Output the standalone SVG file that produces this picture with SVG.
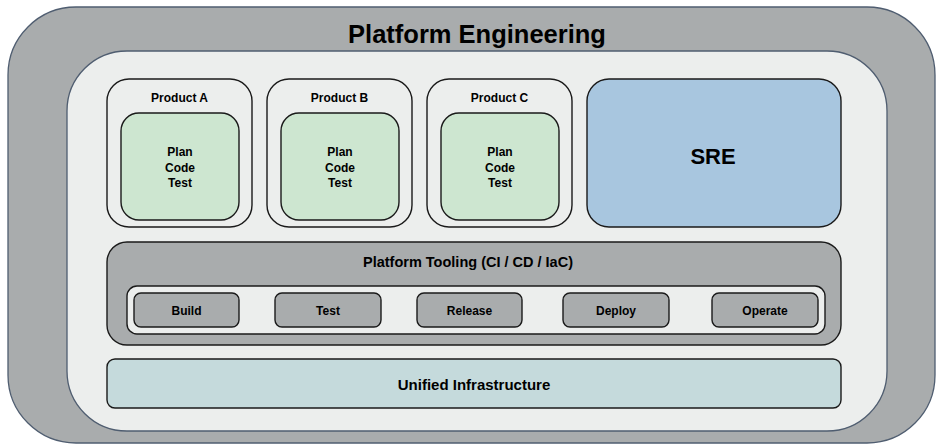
<svg xmlns="http://www.w3.org/2000/svg" width="939" height="446" viewBox="0 0 939 446">
  <style>
    text { font-family: "Liberation Sans", Arial, sans-serif; font-weight: bold; fill: #000; text-anchor: middle; dominant-baseline: central; }
    .frame { stroke: #4f5d70; stroke-width: 1.3; }
    .box { stroke: #1a1a1a; stroke-width: 1.4; }
    .grey { fill: #a9acad; }
    .light { fill: #eceeed; }
    .green { fill: #cde6d0; }
    .blue { fill: #a8c6df; }
    .infra { fill: #c5dadc; }
    .lbl { font-size: 12px; }
    .step { font-size: 12px; }
  </style>

  <!-- outer platform frame -->
  <g id="platform-engineering">
    <rect class="frame grey" x="8" y="7" width="927" height="436" rx="68"/>
    <text x="477" y="34" style="font-size:25.5px">Platform Engineering</text>
    <rect class="frame light" x="67" y="51" width="820" height="380" rx="60"/>
  </g>

  <!-- product teams -->
  <g id="product-a">
    <rect class="box light" x="107" y="79" width="145" height="148" rx="22"/>
    <text class="lbl" x="179.5" y="98">Product A</text>
    <rect class="box green" x="121" y="113" width="118" height="107" rx="18"/>
    <text class="lbl" x="180" y="152">Plan</text>
    <text class="lbl" x="180" y="168">Code</text>
    <text class="lbl" x="180" y="183">Test</text>
  </g>
  <g id="product-b">
    <rect class="box light" x="267" y="79" width="145" height="148" rx="22"/>
    <text class="lbl" x="339.5" y="98">Product B</text>
    <rect class="box green" x="281" y="113" width="118" height="107" rx="18"/>
    <text class="lbl" x="340" y="152">Plan</text>
    <text class="lbl" x="340" y="168">Code</text>
    <text class="lbl" x="340" y="183">Test</text>
  </g>
  <g id="product-c">
    <rect class="box light" x="427" y="79" width="145" height="148" rx="22"/>
    <text class="lbl" x="499.5" y="98">Product C</text>
    <rect class="box green" x="441" y="113" width="118" height="107" rx="18"/>
    <text class="lbl" x="500" y="152">Plan</text>
    <text class="lbl" x="500" y="168">Code</text>
    <text class="lbl" x="500" y="183">Test</text>
  </g>

  <g id="sre">
    <rect class="box blue" x="587" y="79" width="254" height="148" rx="22"/>
    <text x="713" y="156" style="font-size:22px">SRE</text>
  </g>

  <!-- shared tooling -->
  <g id="platform-tooling">
    <rect class="box grey" x="107" y="242" width="734" height="103" rx="20"/>
    <text x="468" y="262" style="font-size:14.5px">Platform Tooling (CI / CD / IaC)</text>
    <rect class="box light" x="127" y="286" width="698" height="48" rx="10"/>
  </g>
  <g id="step-build">
    <rect class="box grey" x="134" y="293" width="105" height="34" rx="7"/>
    <text class="step" x="186.5" y="311">Build</text>
  </g>
  <g id="step-test">
    <rect class="box grey" x="275" y="293" width="106" height="34" rx="7"/>
    <text class="step" x="328" y="311">Test</text>
  </g>
  <g id="step-release">
    <rect class="box grey" x="417" y="293" width="105" height="34" rx="7"/>
    <text class="step" x="469.5" y="311">Release</text>
  </g>
  <g id="step-deploy">
    <rect class="box grey" x="563" y="293" width="106" height="34" rx="7"/>
    <text class="step" x="616" y="311">Deploy</text>
  </g>
  <g id="step-operate">
    <rect class="box grey" x="712" y="293" width="106" height="34" rx="7"/>
    <text class="step" x="765" y="311">Operate</text>
  </g>

  <g id="unified-infrastructure">
    <rect class="box infra" x="107" y="359" width="734" height="49" rx="8"/>
    <text x="474" y="384" style="font-size:15px">Unified Infrastructure</text>
  </g>

  <g id="connectors"/>
</svg>
